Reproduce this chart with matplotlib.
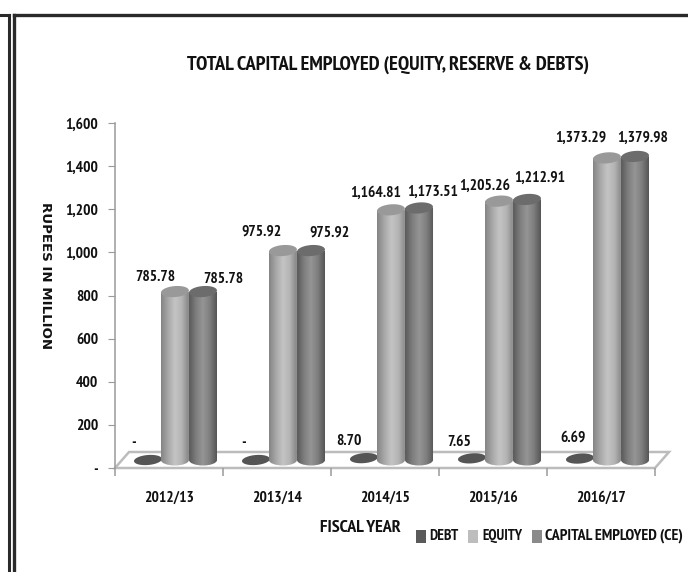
import numpy as np
import matplotlib
matplotlib.use("Agg")
import matplotlib.pyplot as plt
from matplotlib import font_manager as fm
from matplotlib.patches import Polygon, PathPatch, Rectangle
from matplotlib.path import Path
from matplotlib.lines import Line2D
from matplotlib.ticker import FuncFormatter
from matplotlib.colors import LinearSegmentedColormap

categories = ["2012/13", "2013/14", "2014/15", "2015/16", "2016/17"]
debt = [0, 0, 8.70, 7.65, 6.69]
equity = [785.78, 975.92, 1164.81, 1205.26, 1373.29]
capital = [785.78, 975.92, 1173.51, 1212.91, 1379.98]
debt_labels = ["-", "-", "8.70", "7.65", "6.69"]
equity_labels = ["785.78", "975.92", "1,164.81", "1,205.26", "1,373.29"]
capital_labels = ["785.78", "975.92", "1,173.51", "1,212.91", "1,379.98"]
yticks = [0, 200, 400, 600, 800, 1000, 1200, 1400, 1600]

W, H = 688, 572
avail = {f.name for f in fm.fontManager.ttflist}
narrow = next((n for n in ["PT Sans Narrow", "Archivo Narrow", "Pragati Narrow", "Roboto Condensed", "Lato"]
               if n in avail), "DejaVu Sans")
plt.rcParams["font.family"] = [narrow, "DejaVu Sans"]
INK = "#111111"
NUM = 11.2

fig = plt.figure(figsize=(W / 100, H / 100), dpi=100, facecolor="white")
L, R, T, B = 115, 655, 123, 468
ax = fig.add_axes([L / W, 1 - B / H, (R - L) / W, (B - T) / H])
ax.set_xlim(0, 5)
ax.set_ylim(0, 1600)
PX = 5 / (R - L)      # data x per pixel
PY = 1600 / (B - T)   # data y per pixel

for s in ["top", "right", "bottom"]:
    ax.spines[s].set_visible(False)
ax.spines["left"].set_color("#9a9a9a")
ax.spines["left"].set_linewidth(1.1)
ax.patch.set_visible(False)

ax.set_xticks(range(6))
ax.set_xticklabels([])
ax.set_yticks(yticks)
ax.yaxis.set_major_formatter(FuncFormatter(lambda v, p: "-" if v == 0 else f"{int(v):,}"))
ax.tick_params(axis="y", length=5, color="#9a9a9a", pad=7, labelsize=NUM, labelcolor=INK)
ax.tick_params(axis="x", length=6, color="#9a9a9a", width=1.1)
for lb in ax.get_yticklabels():
    lb.set_fontweight("bold")

# floor
dx, dy = 14 * PX, 16 * PY
ax.add_patch(Polygon([(0, 0), (5, 0), (5 + dx, dy), (dx, dy)], closed=True, facecolor="white",
                     edgecolor="#bcbcbc", lw=1.8, clip_on=False, zorder=1))

for i, c in enumerate(categories):
    ax.text(i + 0.5, -30 * PY, c, ha="center", va="center", fontsize=NUM, fontweight="bold",
            color=INK, clip_on=False)

cmap_eq = LinearSegmentedColormap.from_list("eq", ["#858585", "#a8a8a8", "#c4c4c4", "#b4b4b4", "#858585"])
cmap_ce = LinearSegmentedColormap.from_list("ce", ["#5a5a5a", "#7e7e7e", "#959595", "#7e7e7e", "#565656"])
grad = np.linspace(0, 1, 64).reshape(1, -1)

base = 8 * PY
hw = 14 * PX
eh = 5.5 * PY
TILT = np.radians(5)


def ellipse_xy(xc, yc, a_px, b_px):
    t = np.linspace(0, 2 * np.pi, 60)
    ex, ey = a_px * np.cos(t), b_px * np.sin(t)
    px = ex * np.cos(TILT) - ey * np.sin(TILT)
    py = ex * np.sin(TILT) + ey * np.cos(TILT)
    return np.column_stack([xc + px * PX, yc + py * PY])


def cylinder(xc, top_y, cmap, top, z):
    y0 = base
    k = 0.5523
    verts = [(xc - hw, top_y), (xc - hw, y0),
             (xc - hw, y0 - k * eh), (xc - k * hw, y0 - eh), (xc, y0 - eh),
             (xc + k * hw, y0 - eh), (xc + hw, y0 - k * eh), (xc + hw, y0),
             (xc + hw, top_y), (xc - hw, top_y)]
    codes = [Path.MOVETO, Path.LINETO, Path.CURVE4, Path.CURVE4, Path.CURVE4,
             Path.CURVE4, Path.CURVE4, Path.CURVE4, Path.LINETO, Path.CLOSEPOLY]
    clip = PathPatch(Path(verts, codes), transform=ax.transData, fc="none", ec="none")
    ax.add_patch(clip)
    im = ax.imshow(grad, extent=(xc - hw, xc + hw, y0 - eh, top_y), aspect="auto", cmap=cmap,
                   vmin=0, vmax=1, zorder=z, interpolation="bilinear")
    im.set_clip_path(clip)
    ax.add_patch(Polygon(ellipse_xy(xc, top_y, 14, 5.5), fc=top, ec="none", zorder=z + 0.1, clip_on=False))


# depth lift of each cylinder's top in pixels, as seen in the picture
lift_px = [7, 7, 7, 7, 14]
# data-label centres in picture pixels
eq_px = [(155, 277), (262, 232), (376, 193), (485, 186), (581, 138)]
ce_px = [(223, 279), (329, 233), (433, 192), (540, 178), (643, 138)]
debt_px = [(134, 443), (244, 443), (349, 441), (459, 442), (573, 438)]


def px_text(x, y, s, **kw):
    kw.setdefault("ha", "center")
    kw.setdefault("va", "center")
    kw.setdefault("fontweight", "bold")
    kw.setdefault("color", INK)
    return fig.text(x / W, 1 - y / H, s, **kw)


for i in range(5):
    ax.add_patch(Polygon(ellipse_xy(i + 0.305, base + debt[i], 14, 5), fc="#555555", ec="none", zorder=3))
    cylinder(i + 0.555, equity[i] + lift_px[i] * PY, cmap_eq, "#999999", 4)
    cylinder(i + 0.815, capital[i] + lift_px[i] * PY, cmap_ce, "#6c6c6c", 5)
    px_text(*eq_px[i], equity_labels[i], fontsize=NUM, zorder=8)
    px_text(*ce_px[i], capital_labels[i], fontsize=NUM, zorder=8)
    px_text(*debt_px[i], debt_labels[i], fontsize=NUM, zorder=8)
ax.set_xlim(0, 5)
ax.set_ylim(0, 1600)

# texts
r = fig.canvas.get_renderer()


def fit(t, width):
    t.set_fontsize(t.get_fontsize() * width / t.get_window_extent(r).width)
    return t


fit(px_text(388, 65, "TOTAL CAPITAL EMPLOYED (EQUITY, RESERVE & DEBTS)", fontsize=14), 404)
px_text(360, 528, "FISCAL YEAR", fontsize=13)
px_text(45, 276, "RUPEES IN MILLION", rotation=-90, fontsize=9.6, family="DejaVu Sans")

# legend
for x0, col, tx, s, w in [(416, "#5a5a5a", 429, "DEBT", 29), (468, "#bdbdbd", 482, "EQUITY", 40),
                          (532, "#8a8a8a", 545, "CAPITAL EMPLOYED (CE)", 137)]:
    fig.add_artist(Rectangle((x0 / W, 1 - 543 / H), 9.5 / W, 13 / H, transform=fig.transFigure, fc=col, ec="none"))
    fit(px_text(tx, 536, s, ha="left", fontsize=11), w)

# page frame
frame = "#2a2a2a"
for xs, ys, lw in [((0, 8.5), (15, 15), 2.2), ((13.5, 686), (15, 15), 2.4),
                   ((8.5, 8.5), (15, 572), 2.2), ((13.5, 13.5), (15, 572), 2.4)]:
    fig.add_artist(Line2D([x / W for x in xs], [1 - y / H for y in ys], transform=fig.transFigure,
                          color=frame, lw=lw))

fig.savefig("out.png", dpi=100)
